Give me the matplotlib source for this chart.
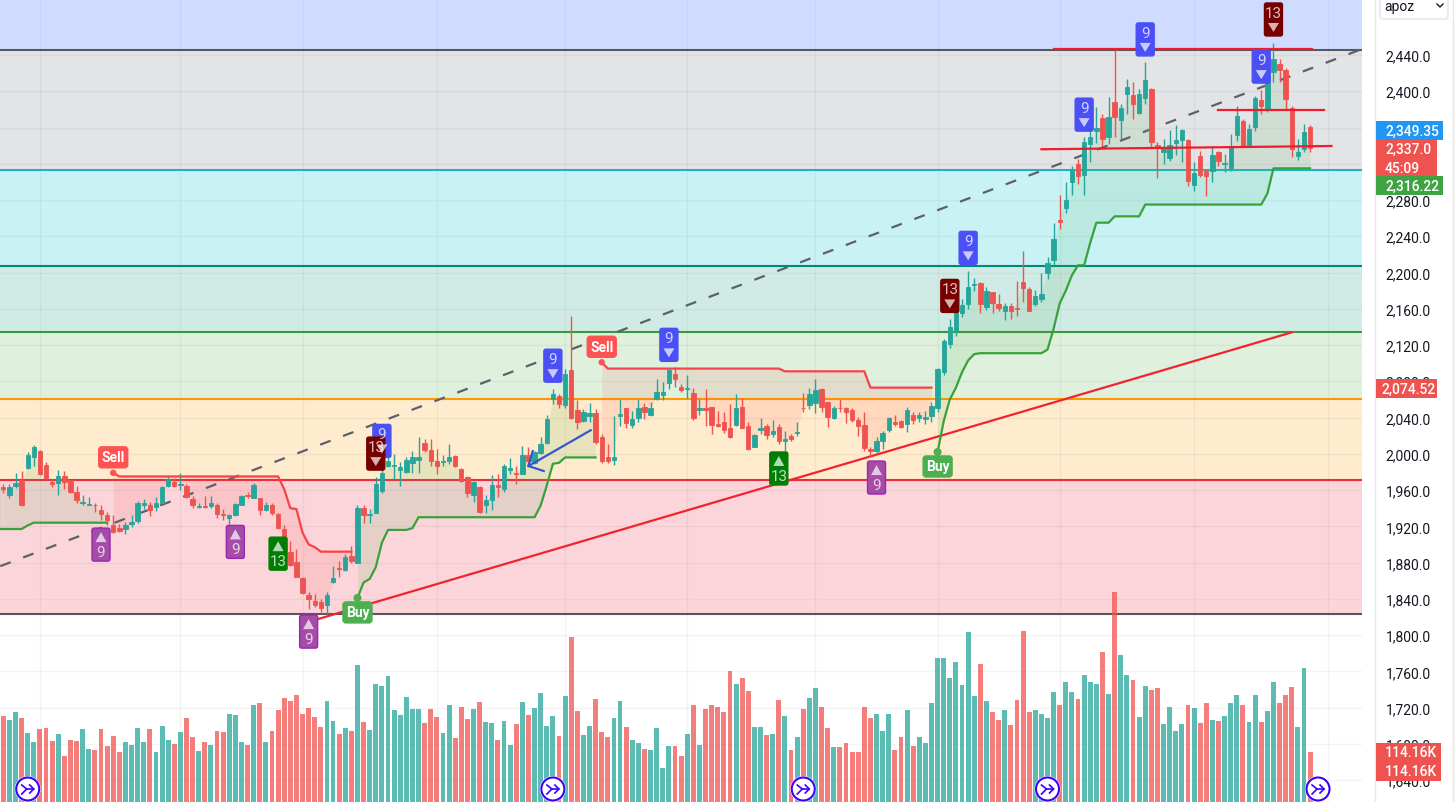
import numpy as np
import matplotlib
matplotlib.use("Agg")
import matplotlib.pyplot as plt
from matplotlib.patches import FancyBboxPatch, Polygon, Circle

plt.rcParams['font.family'] = ['Roboto', 'DejaVu Sans']

opens = [1963,1955,1965,1971,1984,1997,2003,1988,1969,1968,
         1976,1971,1958,1946,1943,1944,1938,1932,1921,1918,
         1917,1922,1926,1943,1943,1941,1946,1965,1969,1966,
         1965,1950,1941,1942,1942,1944,1934,1929,1932,1944,
         1954,1951,1951,1938,1943,1934,1917,1892,1881,1863,
         1844,1838,1836,1833,1859,1874,1872,1887,1880,1940,
         1933,1935,1959,1987,1987,1982,1980,1990,1993,2012,
         2004,1992,1991,1992,1998,1983,1974,1954,1963,1943,
         1949,1966,1961,1982,1979,1978,1999,1990,2001,2012,
         2060,2064,2054,2093,2048,2036,2042,2045,2018,1996,
         1993,2042,2050,2032,2039,2052,2043,2060,2065,2078,
         2088,2074,2072,2067,2048,2050,2052,2033,2035,2028,
         2032,2052,2031,2008,2026,2031,2022,2030,2014,2020,
         2023,2051,2054,2056,2071,2057,2039,2051,2050,2048,
         2037,2032,2005,2003,2014,2026,2035,2036,2033,2043,
         2039,2038,2042,2051,2090,2121,2135,2155,2165,2186,
         2188,2162,2178,2165,2158,2163,2161,2189,2182,2165,
         2171,2199,2214,2258,2271,2300,2320,2308,2342,2356,
         2371,2350,2388,2368,2397,2396,2376,2393,2402,2341,
         2333,2326,2343,2346,2346,2297,2329,2312,2312,2333,
         2320,2315,2352,2367,2340,2361,2390,2380,2421,2430,
         2424,2382,2329,2336,2361]
closes = [1961,1963,1968,1943,1999,2008,1978,1973,1967,1975,
          1969,1958,1949,1947,1945,1943,1934,1927,1914,1915,
          1921,1925,1946,1946,1938,1946,1963,1972,1964,1967,
          1952,1943,1942,1941,1946,1934,1932,1932,1945,1953,
          1953,1966,1938,1944,1935,1918,1889,1877,1864,1846,
          1840,1833,1830,1844,1863,1873,1886,1882,1940,1933,
          1934,1967,1979,1992,1988,1985,1993,1996,1997,2004,
          1992,1986,1992,1997,1986,1970,1957,1969,1936,1949,
          1966,1963,1986,1984,1978,1999,1992,2002,2011,2038,
          2066,2055,2088,2040,2035,2046,2045,2013,1992,1992,
          1996,2044,2034,2038,2050,2046,2050,2068,2068,2092,
          2082,2070,2073,2040,2050,2048,2032,2031,2026,2018,
          2050,2029,2005,2021,2028,2021,2025,2014,2016,2016,
          2024,2050,2066,2070,2052,2041,2050,2050,2046,2037,
          2031,2006,2003,2014,2023,2039,2033,2030,2048,2037,
          2043,2041,2053,2094,2125,2140,2160,2164,2184,2187,
          2165,2180,2166,2161,2163,2158,2160,2183,2158,2174,
          2176,2211,2237,2256,2280,2313,2307,2344,2350,2360,
          2347,2372,2372,2382,2405,2386,2397,2412,2344,2339,
          2337,2341,2346,2357,2301,2310,2308,2307,2330,2323,
          2321,2338,2373,2340,2358,2393,2384,2416,2436,2424,
          2391,2336,2333,2355,2337]
highs = [1967,1967,1979,1981,2002,2010,2004,1991,1972,1982,
         1981,1972,1965,1954,1952,1946,1943,1936,1932,1923,
         1925,1932,1948,1950,1947,1952,1965,1975,1973,1979,
         1967,1953,1946,1953,1953,1946,1939,1934,1946,1954,
         1958,1968,1951,1947,1946,1935,1921,1904,1895,1864,
         1848,1845,1840,1847,1876,1882,1889,1898,1944,1943,
         1939,1974,1994,2007,2000,1991,1996,2003,2019,2016,
         2016,2005,1999,2011,1999,1984,1976,1970,1964,1954,
         1977,1978,1989,1995,1987,2009,2007,2003,2018,2043,
         2071,2066,2094,2152,2059,2049,2056,2049,2022,2011,
         2042,2060,2051,2047,2060,2056,2057,2082,2079,2094,
         2096,2077,2087,2073,2060,2071,2052,2047,2046,2055,
         2066,2062,2035,2022,2040,2033,2037,2033,2025,2022,
         2035,2067,2073,2082,2073,2057,2053,2060,2052,2051,
         2041,2046,2007,2019,2025,2041,2043,2037,2052,2046,
         2046,2047,2057,2095,2127,2149,2165,2171,2202,2194,
         2190,2184,2179,2176,2166,2166,2191,2224,2184,2181,
         2199,2217,2255,2286,2300,2318,2325,2349,2358,2383,
         2375,2394,2447,2386,2414,2410,2403,2432,2404,2344,
         2347,2357,2363,2358,2347,2322,2334,2314,2340,2334,
         2331,2353,2384,2369,2364,2395,2401,2419,2453,2436,
         2426,2384,2347,2364,2363]
lows = [1957,1951,1962,1942,1983,1987,1977,1972,1963,1954,
        1961,1957,1946,1943,1943,1936,1927,1921,1913,1914,
        1912,1919,1924,1939,1931,1937,1946,1963,1963,1960,
        1951,1940,1940,1940,1940,1929,1927,1922,1931,1943,
        1951,1951,1932,1937,1933,1917,1888,1876,1864,1845,
        1829,1831,1825,1823,1857,1864,1871,1880,1879,1924,
        1924,1935,1957,1985,1972,1964,1979,1979,1979,2002,
        1987,1978,1987,1989,1985,1969,1952,1947,1935,1935,
        1938,1952,1958,1978,1967,1978,1987,1989,2000,2011,
        2055,2050,2051,2038,2027,2035,2035,2011,1990,1990,
        1988,2031,2028,2029,2035,2038,2042,2059,2059,2071,
        2074,2068,2062,2037,2043,2031,2022,2030,2023,2017,
        2031,2028,2004,2007,2022,2016,2018,2011,2003,2014,
        2020,2046,2049,2045,2046,2030,2038,2046,2034,2035,
        2020,2003,1998,2001,2005,2024,2031,2028,2024,2033,
        2035,2033,2035,2046,2087,2117,2130,2151,2160,2180,
        2155,2159,2155,2157,2148,2149,2152,2167,2158,2163,
        2167,2193,2208,2248,2266,2285,2298,2285,2322,2343,
        2338,2342,2349,2347,2375,2369,2375,2386,2338,2304,
        2320,2323,2330,2322,2296,2290,2305,2284,2300,2318,
        2311,2312,2345,2338,2338,2356,2375,2377,2410,2410,
        2380,2327,2324,2333,2333]
volumes = [197,187,206,192,157,138,167,168,140,156,
           104,142,139,166,121,119,166,128,151,114,
           137,130,168,137,166,114,173,142,133,159,
           192,148,116,137,130,161,160,201,199,137,
           130,221,225,138,163,211,237,230,244,201,
           214,194,171,230,186,156,168,163,312,182,
           164,269,264,288,211,199,239,213,213,180,
           213,195,157,221,145,218,189,213,228,182,
           180,142,185,131,177,229,199,214,249,173,
           196,151,241,377,208,153,173,236,160,148,
           192,230,172,141,134,121,119,170,78,127,
           128,104,156,221,130,213,221,218,205,300,
           270,284,253,172,172,153,156,234,196,118,
           149,213,237,260,218,170,125,125,135,114,
           114,217,192,202,161,201,119,148,211,128,
           148,135,225,329,328,283,319,267,389,242,
           316,230,206,187,211,176,233,390,205,209,
           201,191,250,221,275,252,236,291,275,269,
           342,246,479,335,289,279,194,264,255,260,
           177,217,161,179,221,215,180,225,187,185,
           196,225,244,221,183,244,182,208,275,225,
           244,262,172,307,114.16]

# stop line, one value per bar, flips side at flip_bars
stop_line = [1917,1917,1917,1917,1921,1924,1924,1924,1924,1924,
             1924,1924,1924,1924,1924,1924,1924,1924,1979,1975,
             1975,1975,1975,1975,1975,1975,1975,1975,1975,1975,
             1975,1975,1975,1975,1975,1975,1975,1975,1975,1975,
             1975,1975,1975,1975,1975,1975,1961,1940,1939,1913,
             1900,1897,1892,1892,1892,1892,1892,1892,1841,1858,
             1862,1875,1902,1916,1916,1916,1916,1918,1930,1930,
             1930,1930,1930,1930,1930,1930,1930,1930,1930,1930,
             1930,1930,1930,1930,1930,1930,1930,1930,1943,1965,
             1989,1990,1996,1996,1996,1996,1996,1996,2101,2094,
             2094,2094,2094,2094,2094,2094,2094,2094,2094,2094,
             2094,2094,2094,2094,2094,2094,2094,2094,2094,2094,
             2094,2094,2094,2094,2094,2094,2094,2094,2091,2091,
             2091,2091,2091,2091,2091,2091,2091,2091,2091,2091,
             2091,2091,2073,2073,2073,2073,2073,2073,2073,2073,
             2073,2073,2073,2002,2036,2060,2073,2090,2103,2110,
             2111,2111,2111,2111,2111,2111,2111,2111,2111,2111,
             2111,2115,2138,2166,2180,2197,2208,2208,2233,2255,
             2255,2255,2262,2262,2262,2262,2262,2275,2275,2275,
             2275,2275,2275,2275,2275,2275,2275,2275,2275,2275,
             2275,2275,2275,2275,2275,2275,2275,2287,2315,2315,
             2315,2315,2315,2315,2315]
flip_bars = [18, 58, 98, 153]

fib_levels = [2445.5, 2313, 2207, 2134, 2060, 1971, 1823]
fib_fills = ['#e3e4e6', '#c9f2f4', '#d0ebe5', '#dff0dc', '#ffebcd', '#fbd5d9']
fib_lines = ['#55585f', '#1fb3c2', '#00897b', '#359b3c', '#ff9800', '#ef2b3c', '#55585f']

# 2360 and 2320 sit fully behind the price tags, so they are left out
price_ticks = [2440,2400,2280,2240,2200,2160,2120,2080,2040,2000,1960,
               1920,1880,1840,1800,1760,1720,1680,1640]
hidden_ticks = [2360, 2320]
grid_bars = [6, 29, 49, 71, 92, 112, 133, 153, 173, 195, 217]

dash_bars = [-0.5, 222.5]
dash_prices = [1876, 2446.6]
trend_bars = [50.2, 211]
trend_prices = [1815, 2134]
hlines = [([172, 214.3], [2447, 2447]),
          ([199, 216.3], [2379, 2379]),
          ([170, 217.5], [2336, 2339.6])]
arrow_bars = [96.2, 86]
arrow_prices = [2026, 1986.5]
barb_bars = [86.7, 88.5]
barb_prices = [2003, 1981]

# bar, price at the badge tip, number
up_badges = [(16, 1918, '9'), (38, 1921, '9'), (45, 1908, '13'), (50, 1822, '9'),
             (127, 2002, '13'), (143, 1992, '9')]
down_badges = [(62, 1996, '9'), (61, 1982, '13'), (90, 2079, '9'), (109, 2102, '9'),
               (155, 2156, '13'), (158, 2209, '9'), (177, 2356, '9'), (187, 2439, '9'),
               (206, 2409, '9'), (208, 2461, '13')]
sell_bars = [18, 98]
buy_bars = [58, 153]
icon_bars = [4, 90, 131, 171, 215.3]

W, H = 1456, 803
CH_W = 1362
teal = '#26a69a'
red = '#ef5350'

opens = np.array(opens, float)
closes = np.array(closes, float)
highs = np.array(highs, float)
lows = np.array(lows, float)
volumes = np.array(volumes, float)
stop_line = np.array(stop_line, float)
bars = np.arange(len(opens))
up = closes >= opens
cols = np.where(up, teal, red)

fig = plt.figure(figsize=(W / 100, H / 100), dpi=100, facecolor='white')
ax = fig.add_axes([0, 0, CH_W / W, 1])
ax.set_xlim(-0.54, 222.5)
ax.set_ylim(1615.8, 2501.8)
for s in ax.spines.values():
    s.set_visible(False)

ax.axhspan(fib_levels[0], 2501.8, color='#d0dcff', lw=0, zorder=0)
for k in range(len(fib_fills)):
    ax.axhspan(fib_levels[k + 1], fib_levels[k], color=fib_fills[k], lw=0, zorder=0)

ax.yaxis.tick_right()
ax.set_yticks(price_ticks)
ax.set_yticklabels([f'{t:,.1f}' for t in price_ticks], color='#131722', fontsize=10)
ax.tick_params(axis='y', length=0, pad=17)
ax.set_xticks(grid_bars)
ax.tick_params(axis='x', length=0, labelbottom=False)
ax.grid(True, color='#2a2e39', alpha=0.05, lw=1, zorder=1)
ax.set_axisbelow(True)
for t in hidden_ticks:
    ax.axhline(t, color='#2a2e39', alpha=0.05, lw=1, zorder=1)

for k in range(len(fib_levels)):
    ax.axhline(fib_levels[k], color=fib_lines[k], lw=1.5, zorder=2)

# fills between stop line and candle middle
mid = (opens + highs + lows + closes) / 4
edges = [0] + flip_bars + [len(bars)]
for k in range(len(edges) - 1):
    a, b = edges[k], edges[k + 1]
    side = '#4caf50' if k % 2 == 0 else '#ff5252'
    ax.fill_between(bars[a:b], stop_line[a:b], mid[a:b], color=side, alpha=0.12, lw=0, zorder=3)
    ax.plot(bars[a:b], stop_line[a:b], color='#37a23c' if k % 2 == 0 else '#f7424a', lw=1.6, zorder=6)
# the first run starts left of the visible bars
ax.plot([-0.6, 0], [stop_line[0], stop_line[0]], color='#37a23c', lw=1.6, zorder=6)
ax.fill_between([-0.6, 0], stop_line[0], mid[0], color='#4caf50', alpha=0.12, lw=0, zorder=3)

ax.plot(dash_bars, dash_prices, color='#5d606b', lw=1.6, linestyle=(0, (5, 6)), zorder=4)
ax.plot(trend_bars, trend_prices, color='#f0242f', lw=1.6, zorder=4)

ax.vlines(bars, lows, highs, colors=cols, lw=1, zorder=5)
ax.bar(bars, closes - opens, bottom=opens, width=0.72, color=cols, edgecolor=cols, lw=0.6, zorder=5)

for hb, hp in hlines:
    ax.plot(hb, hp, color='#ee1c2e', lw=1.6, zorder=7)
ax.plot(arrow_bars, arrow_prices, color='#3558c8', lw=1.6, zorder=7)
ax.plot([barb_bars[0], arrow_bars[1], barb_bars[1]], [barb_prices[0], arrow_prices[1], barb_prices[1]],
        color='#3558c8', lw=1.6, zorder=7)

ax_vol = fig.add_axes([0, 0, CH_W / W, 1], sharex=ax)
ax_vol.patch.set_alpha(0)
ax_vol.set_ylim(0, H * 2.283)
ax_vol.axis('off')
ax_vol.bar(bars, volumes, width=0.8, color=cols, alpha=0.75, lw=0)

ov = fig.add_axes([0, 0, 1, 1], zorder=5)
ov.set_xlim(0, W)
ov.set_ylim(H, 0)
ov.axis('off')


def to_px(bar, price):
    x, y = ax.transData.transform((bar, price))
    return x, H - y


def draw_box(x0, y0, w, h, fc, ec=None, r=2, z=8, lw=1):
    ov.add_patch(FancyBboxPatch((x0, y0), w, h, boxstyle=f'round,pad=0,rounding_size={r}',
                                fc=fc, ec=ec or fc, lw=lw, zorder=z))


# numbered badges
for b, p, n in up_badges:
    x, y = to_px(b, p)
    c = '#007d05' if n == '13' else '#a54ca6'
    draw_box(x - 9, y, 18, 33, c, '#008000' if n == '13' else '#9c27b0', z=9)
    ov.add_patch(Polygon([(x - 5.5, y + 14), (x + 5.5, y + 14), (x, y + 4)], fc='white', alpha=0.7, lw=0, zorder=10))
    ov.text(x, y + 24, n, color='white', alpha=0.75, ha='center', va='center', fontsize=11, zorder=10)
for b, p, n in down_badges:
    x, y = to_px(b, p)
    c = '#760000' if n == '13' else '#4a50f5'
    draw_box(x - 9, y - 33, 18, 33, c, z=9)
    ov.add_patch(Polygon([(x - 5.5, y - 13), (x + 5.5, y - 13), (x, y - 4)], fc='white', alpha=0.7, lw=0, zorder=10))
    ov.text(x, y - 23, n, color='white', alpha=0.75, ha='center', va='center', fontsize=11, zorder=10)

# buy / sell labels
for b in sell_bars:
    x, y = to_px(b, stop_line[b])
    ov.add_patch(Circle((x, y), 3.2, fc='#ff5252', lw=0, zorder=9))
    draw_box(x - 14.5, y - 26, 29, 21, '#ff5252', z=9, r=3)
    ov.text(x, y - 15.5, 'Sell', color='white', ha='center', va='center', fontsize=10, weight='bold', zorder=10)
for b in buy_bars:
    x, y = to_px(b, stop_line[b])
    ov.add_patch(Circle((x, y), 4, fc='#4caf50', lw=0, zorder=9))
    draw_box(x - 14.5, y + 4, 29, 21, '#4caf50', z=9, r=3)
    ov.text(x, y + 14.5, 'Buy', color='white', ha='center', va='center', fontsize=10, weight='bold', zorder=10)

# session icons along the bottom
for b in icon_bars:
    x, _ = to_px(b, 2000)
    y = 790
    ov.add_patch(Circle((x, y), 13, fc='white', lw=0, zorder=9))
    ov.add_patch(Circle((x, y), 11.5, fc='white', ec='#3a00ff', lw=1.5, zorder=10))
    ov.plot([x - 6, x - 1, x + 6], [y - 4, y, y], color='#3a00ff', lw=1.2, zorder=11)
    ov.plot([x - 6, x - 1], [y + 5, y], color='#3a00ff', lw=1.2, zorder=11)
    ov.plot([x + 2, x + 6, x + 2], [y - 4, y, y + 4], color='#3a00ff', lw=1.2, zorder=11)

# right scale furniture
ov.plot([1375, 1375], [0, H], color='#e6e8ee', lw=1, zorder=2)
ov.plot([1453, 1453], [0, H], color='#e6e8ee', lw=1, zorder=2)
draw_box(1380, -10, 68, 30, 'white', '#e0e3eb', r=3, z=9)
ov.text(1384, 7, 'apoz', color='#131722', fontsize=10, va='center', zorder=10)
ov.plot([1437, 1440, 1443], [5, 8, 5], color='#131722', lw=1, zorder=10)

tags = [(122, 19, 67, '#2196f3', ['2,349.35'], 1385),
        (141, 37, 61, red, ['2,337.0', '45:09'], 1385),
        (177, 19, 67, '#3fa344', ['2,316.22'], 1385),
        (380, 19, 61, red, ['2,074.52'], 1382),
        (744, 38, 65, red, ['114.16K', '114.16K'], 1385)]
for y0, h, w, c, lines, tx in tags:
    ov.fill_between([1376, 1376 + w], y0, y0 + h, color=c, lw=0, zorder=9)
    step = h / len(lines)
    for k, t in enumerate(lines):
        ov.text(tx, y0 + step * (k + 0.5), t, color='white', ha='left', va='center',
                fontsize=10, weight='medium', zorder=10)

fig.savefig('out.png', dpi=100)
